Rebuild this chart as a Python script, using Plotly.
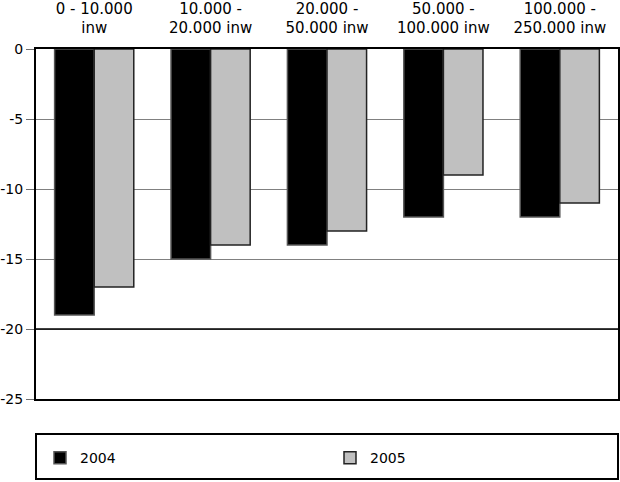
import plotly.graph_objects as go

categories = ["0 - 10.000<br>inw", "10.000 -<br>20.000 inw", "20.000 -<br>50.000 inw",
              "50.000 -<br>100.000 inw", "100.000 -<br>250.000 inw"]
values_2004 = [-19, -15, -14, -12, -12]
values_2005 = [-17, -14, -13, -9, -11]
y_tick_vals = [0, -5, -10, -15, -20, -25]
y_tick_text = ["0", "-5", "-10", "-15", "-20", "-25"]

fig = go.Figure()
fig.add_trace(go.Bar(name="2004", x=categories, y=values_2004,
                     marker=dict(color="#000000", line=dict(color="#555555", width=1.5))))
fig.add_trace(go.Bar(name="2005", x=categories, y=values_2005,
                     marker=dict(color="#c0c0c0", line=dict(color="#222222", width=1.5))))

fam = "DejaVu Sans, Verdana, sans-serif"
cat_font = dict(family=fam, size=15, color="#000000")
tick_font = dict(family=fam, size=14, color="#000000")
leg_font = dict(family=fam, size=14, color="#000000")

fig.update_layout(
    width=620, height=482,
    margin=dict(l=36, r=2, t=49, b=83),
    paper_bgcolor="white", plot_bgcolor="white",
    barmode="group", bargap=0.32, bargroupgap=0,
    font=tick_font,
    showlegend=True,
    legend=dict(orientation="h", x=0.01, xanchor="left", y=-0.169, yanchor="middle",
                entrywidth=245, entrywidthmode="pixels",
                bgcolor="rgba(0,0,0,0)", borderwidth=0, font=leg_font),
    xaxis=dict(side="top", showline=True, linecolor="#000000", linewidth=2, mirror=True,
               ticks="", showgrid=False, tickfont=cat_font, ticklabelstandoff=8,
               automargin=False),
    yaxis=dict(range=[-25, 0], tickvals=y_tick_vals, ticktext=y_tick_text,
               showline=True, linecolor="#000000",
               linewidth=2, mirror=True, ticks="outside", ticklen=8, tickcolor="#6e6e6e",
               showgrid=True, gridcolor="#808080", gridwidth=1, zeroline=False,
               tickfont=tick_font, automargin=False),
)
fig.add_hline(y=-20, line=dict(color="#000000", width=1.5), layer="above")
fig.add_shape(type="rect", xref="paper", yref="paper", x0=0, x1=1.0, y0=-0.2286, y1=-0.1,
              line=dict(color="#000000", width=2))

fig.write_html("out.html")
